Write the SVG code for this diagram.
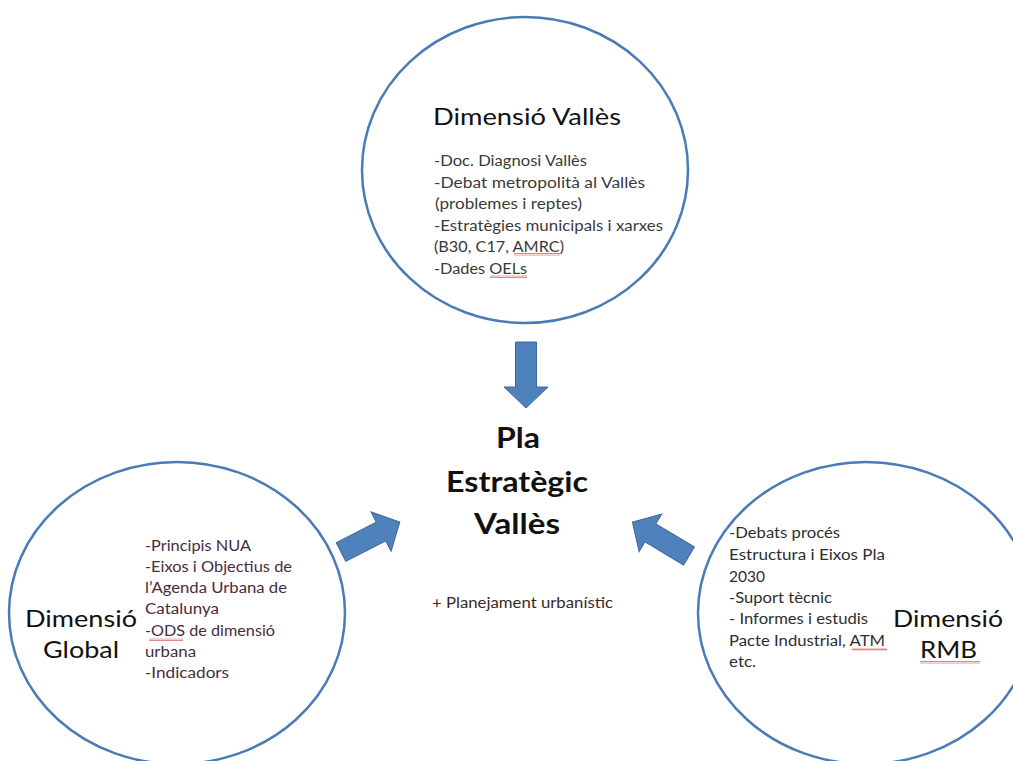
<svg xmlns="http://www.w3.org/2000/svg" width="1013" height="761" viewBox="0 0 1013 761">
<defs>
<style>
.circ{fill:#ffffff;stroke:#4a7bb7;stroke-width:2.5}
.arrow{fill:#4f81bd;stroke:#3d679a;stroke-width:1}
.t{font-family:Lato,"Open Sans","Liberation Sans",sans-serif}
.title{font-size:24px;fill:#111111}
.list{font-size:15.5px}
.center{font-size:29px;font-weight:bold;fill:#111111;text-anchor:middle}
.sq{fill:url(#squig)}
</style>
<pattern id="squig" x="0" y="0" width="4" height="3" patternUnits="userSpaceOnUse">
<path d="M0,2.5 L1,0.5 L2,2.5 L3,0.5 L4,2.5" fill="none" stroke="#e06666" stroke-width="0.8"/>
</pattern>
<path id="arrowShape" d="M0,-10.5 L45,-10.5 L45,-22 L66,0 L45,22 L45,10.5 L0,10.5 Z"/>
</defs>
<rect width="1013" height="761" fill="#ffffff"/>

<g id="node-vall">
<ellipse class="circ" cx="525" cy="170" rx="163" ry="153"/>
<text class="t title" x="433" y="125" textLength="188" lengthAdjust="spacingAndGlyphs">Dimensió  Vallès</text>
<g class="t list" fill="#3a3a3a">
<text x="434" y="166" textLength="153" lengthAdjust="spacingAndGlyphs">-Doc. Diagnosi Vallès</text>
<text x="434" y="188" textLength="211" lengthAdjust="spacingAndGlyphs">-Debat metropolità  al Vallès</text>
<text x="435" y="209" textLength="147" lengthAdjust="spacingAndGlyphs">(problemes i reptes)</text>
<text x="434" y="231" textLength="229" lengthAdjust="spacingAndGlyphs">-Estratègies municipals i xarxes</text>
<text x="434" y="252" textLength="130" lengthAdjust="spacingAndGlyphs">(B30, C17, AMRC)</text>
<text x="434" y="274" textLength="93" lengthAdjust="spacingAndGlyphs">-Dades OELs</text>
</g>
<rect class="sq" x="514" y="253" width="46" height="3"/>
<rect class="sq" x="490" y="275" width="37" height="3"/>
</g>

<g id="node-global">
<ellipse class="circ" cx="177" cy="613" rx="168" ry="151"/>
<text class="t title" x="25" y="627" textLength="112" lengthAdjust="spacingAndGlyphs">Dimensió</text>
<text class="t title" x="43" y="658" textLength="76" lengthAdjust="spacingAndGlyphs">Global</text>
<g class="t list" fill="#4a2c3c">
<text x="145" y="551" textLength="106" lengthAdjust="spacingAndGlyphs">-Principis NUA</text>
<text x="145" y="572" textLength="147" lengthAdjust="spacingAndGlyphs">-Eixos i Objectius de</text>
<text x="145" y="593" textLength="142" lengthAdjust="spacingAndGlyphs">l’Agenda Urbana de</text>
<text x="145" y="614" textLength="74" lengthAdjust="spacingAndGlyphs">Catalunya</text>
<text x="145" y="636" textLength="130" lengthAdjust="spacingAndGlyphs">-ODS de dimensió</text>
<text x="145" y="657" textLength="51" lengthAdjust="spacingAndGlyphs">urbana</text>
<text x="145" y="678" textLength="84" lengthAdjust="spacingAndGlyphs">-Indicadors</text>
</g>
<rect class="sq" x="149" y="638" width="34" height="3"/>
</g>

<g id="node-rmb">
<ellipse class="circ" cx="866" cy="613" rx="168" ry="151"/>
<g class="t list" fill="#2e2e2e">
<text x="729" y="538" textLength="111" lengthAdjust="spacingAndGlyphs">-Debats procés</text>
<text x="729" y="560" textLength="156" lengthAdjust="spacingAndGlyphs">Estructura i Eixos  Pla</text>
<text x="729" y="582" textLength="36" lengthAdjust="spacingAndGlyphs">2030</text>
<text x="729" y="603" textLength="103" lengthAdjust="spacingAndGlyphs">-Suport tècnic</text>
<text x="729" y="624" textLength="139" lengthAdjust="spacingAndGlyphs">- Informes i estudis</text>
<text x="729" y="646" textLength="156" lengthAdjust="spacingAndGlyphs">Pacte Industrial, ATM</text>
<text x="729" y="667" textLength="27" lengthAdjust="spacingAndGlyphs">etc.</text>
</g>
<text class="t title" x="893" y="627" textLength="110" lengthAdjust="spacingAndGlyphs">Dimensió</text>
<text class="t title" x="920" y="658" textLength="57" lengthAdjust="spacingAndGlyphs">RMB</text>
<rect class="sq" x="852" y="648" width="35" height="3"/>
<rect class="sq" x="920" y="661" width="60" height="3"/>
</g>

<g id="node-pla">
<text class="t center" x="518" y="448" textLength="44" lengthAdjust="spacingAndGlyphs">Pla</text>
<text class="t center" x="517" y="492" textLength="142" lengthAdjust="spacingAndGlyphs">Estratègic</text>
<text class="t center" x="517" y="534" textLength="86" lengthAdjust="spacingAndGlyphs">Vallès</text>
<text class="t" x="432" y="608" font-size="14.5" fill="#3b2a2a" textLength="181" lengthAdjust="spacingAndGlyphs">+ Planejament urbanístic</text>
</g>

<g id="connectors">
<use href="#arrowShape" class="arrow" transform="translate(526,342) rotate(90)"/>
<use href="#arrowShape" class="arrow" transform="translate(341,552) rotate(-27)"/>
<use href="#arrowShape" class="arrow" transform="translate(689,556) rotate(-149)"/>
</g>
</svg>
